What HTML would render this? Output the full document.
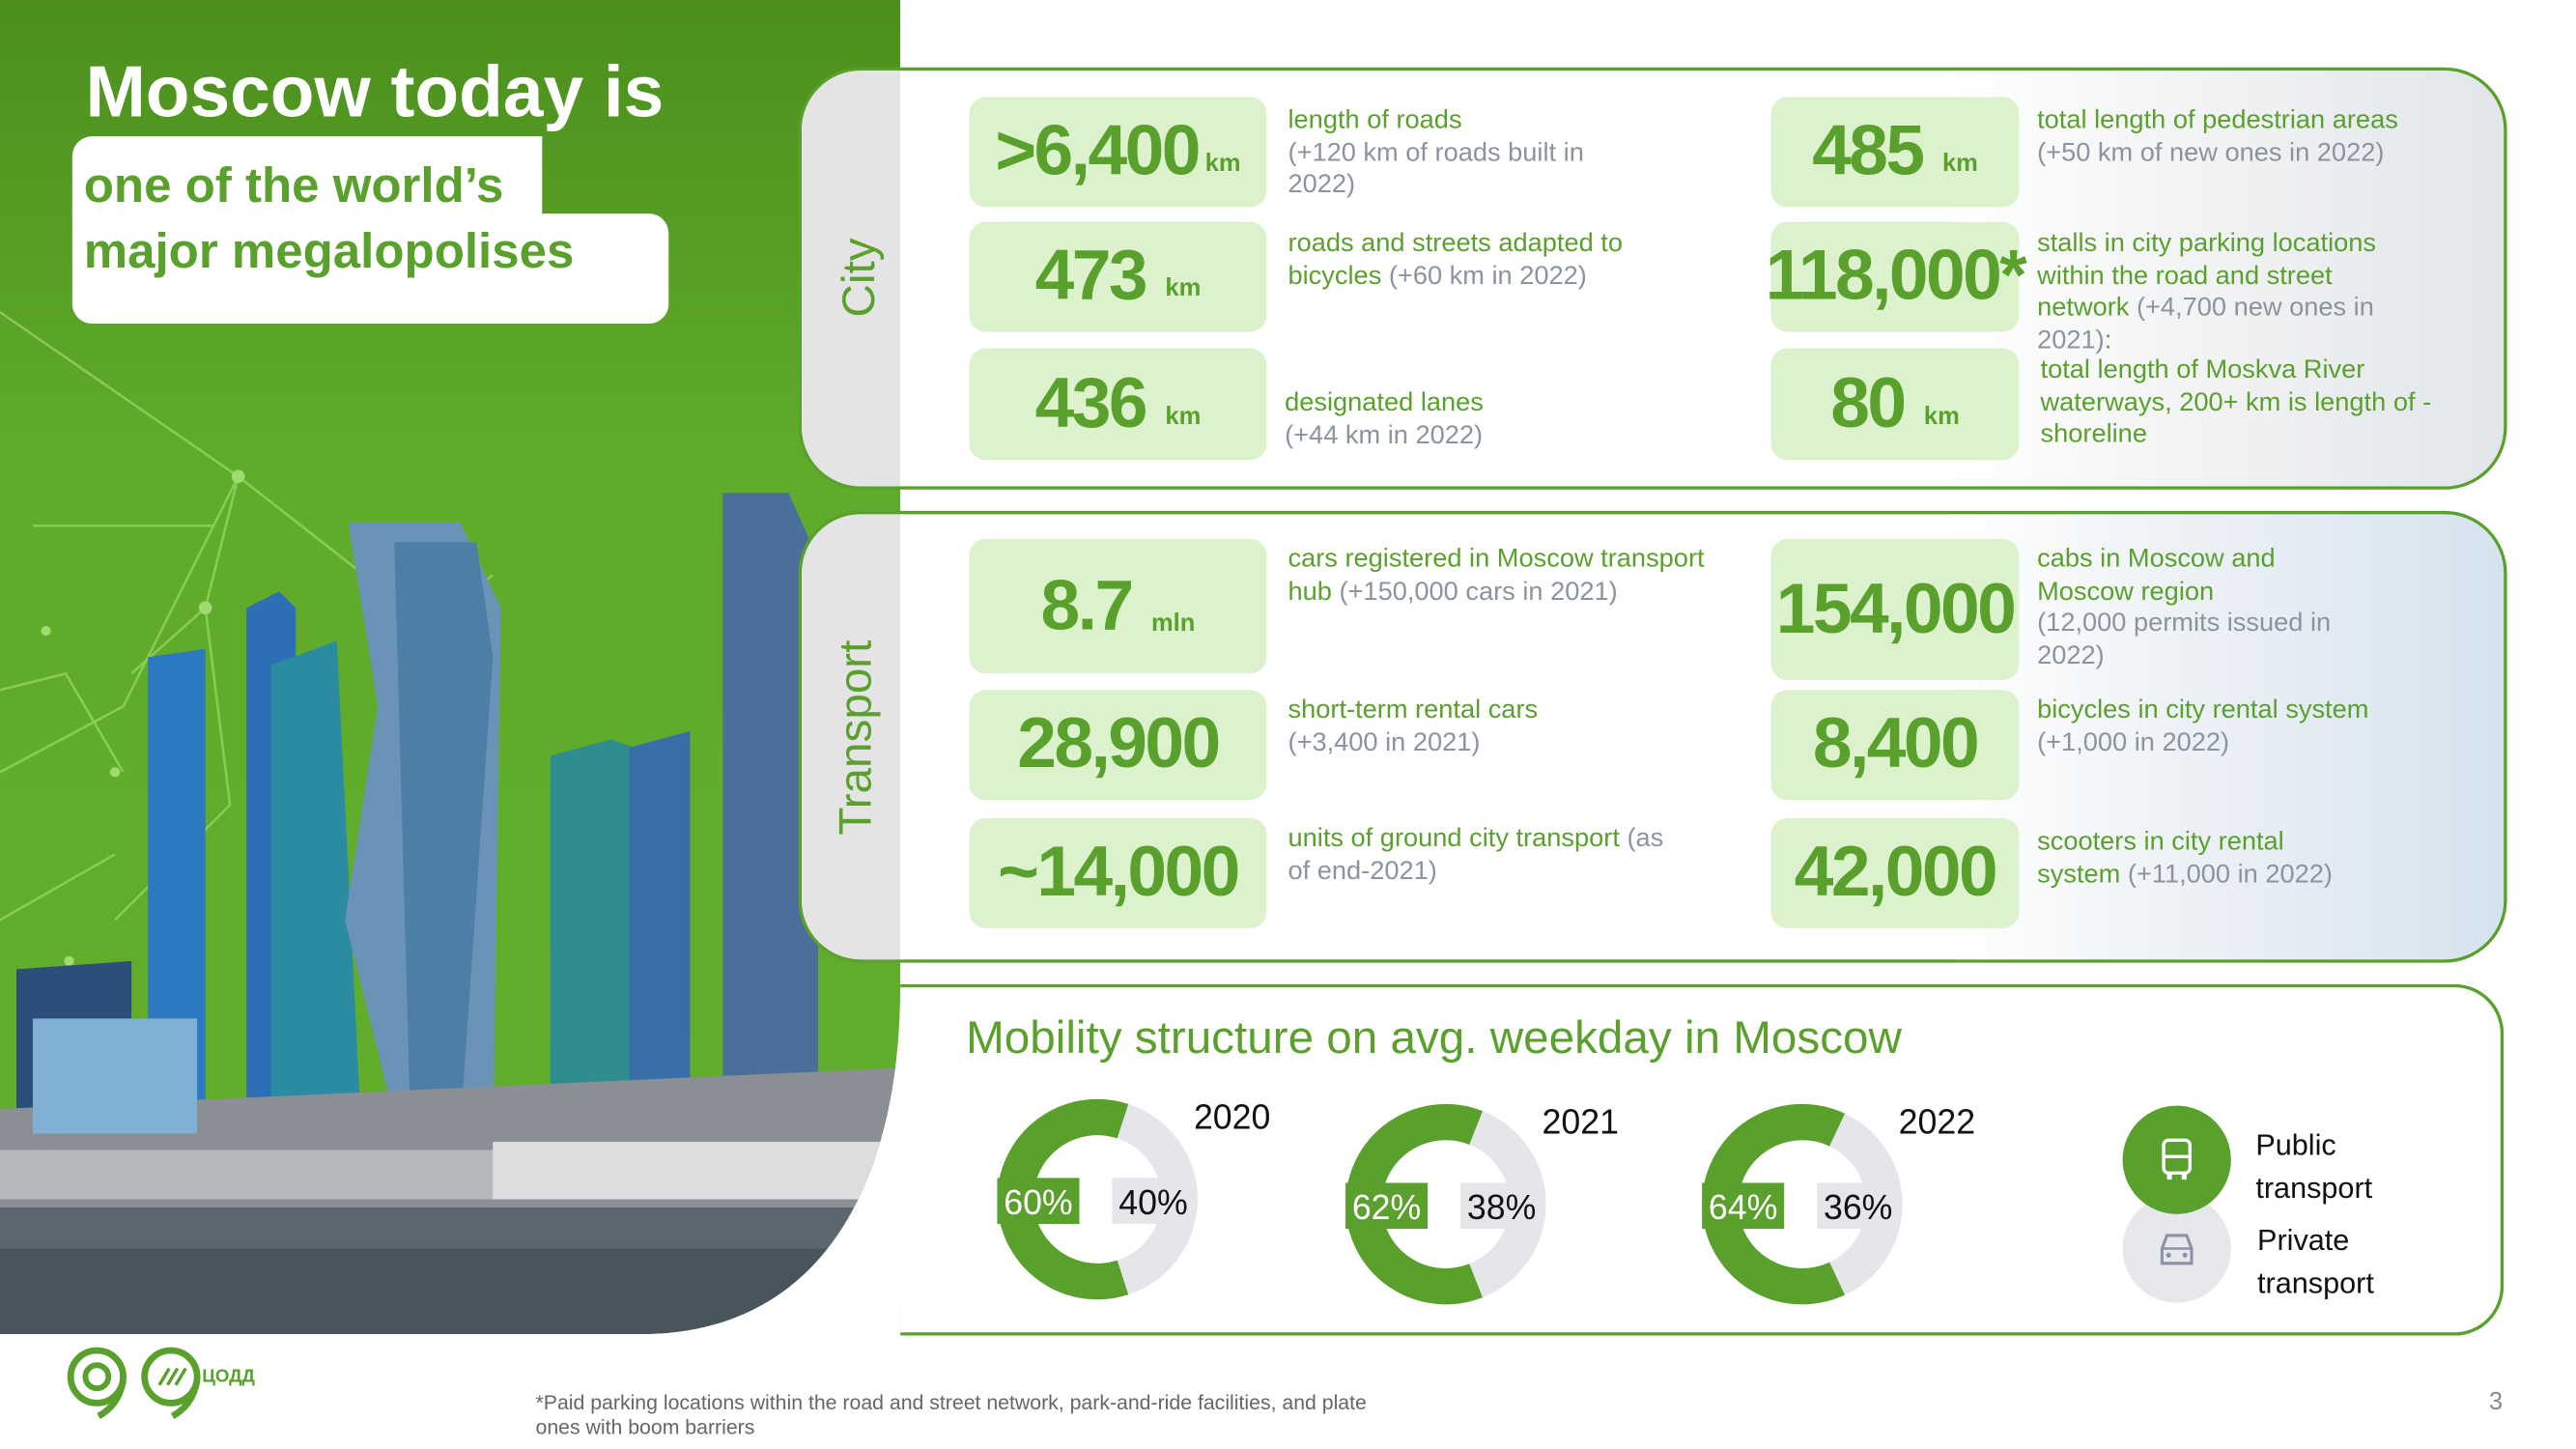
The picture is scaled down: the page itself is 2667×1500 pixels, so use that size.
<!DOCTYPE html>
<html><head><meta charset="utf-8">
<style>
html,body{margin:0;padding:0;width:2667px;height:1500px;overflow:hidden;background:#fff}
#stage{position:absolute;left:0;top:0;width:1568px;height:882px;transform:scale(1.7009,1.7007);transform-origin:0 0;font-family:"Liberation Sans",sans-serif}
.abs{position:absolute}
.panel{position:absolute;border:2px solid #5aa02c;border-radius:38px;background:#fff;overflow:hidden}
.strip{position:absolute;left:0;top:0;bottom:0;width:60px;background:#e4e4e4}
.vlabel{position:absolute;color:#5aa02c;font-size:28px;transform:rotate(-90deg);transform-origin:center;white-space:nowrap}
.box{position:absolute;background:#dcf2cc;border-radius:10px;color:#5aa02c;font-weight:bold;display:flex;align-items:center;justify-content:center}
.num{font-size:43px;letter-spacing:-1.5px}
.unit{font-size:15px;margin-left:12px;align-self:flex-end;margin-bottom:18px}
.desc{position:absolute;font-size:16px;line-height:19.5px;color:#5aa02c}
.desc span{color:#8a93a0}
</style></head><body>
<div id="stage">
<svg class="abs" style="left:0;top:0" width="560" height="812">
<defs><linearGradient id="g" x1="0" y1="0" x2="0" y2="1"><stop offset="0" stop-color="#4c8f1e"/><stop offset="0.35" stop-color="#5fac2a"/><stop offset="1" stop-color="#62ae2c"/></linearGradient>
<clipPath id="c"><path d="M0 0 H548 V600 C548 720 500 812 390 812 H0 Z"/></clipPath></defs>
<g clip-path="url(#c)">
<rect width="560" height="812" fill="url(#g)"/>
<g stroke="#8fd05f" stroke-width="1.5" fill="none" opacity="0.85">
<path d="M0 190 L145 290 L260 380 M145 290 L75 430 L0 470 M145 290 L125 370 L80 410 M20 320 L130 320 M0 420 L40 410 L75 470 M125 370 L140 490 L70 560 M260 380 L300 350 M0 560 L70 520"/>
</g>
<g fill="#9fdc6f"><circle cx="145" cy="290" r="4"/><circle cx="125" cy="370" r="4"/><circle cx="28" cy="384" r="3"/><circle cx="42" cy="585" r="3"/><circle cx="70" cy="470" r="3"/></g>
<polygon points="440,300 480,300 498,340 498,690 440,690" fill="#4a6f9a"/>
<polygon points="335,460 372,450 400,460 400,690 335,690" fill="#2f8d8f"/>
<polygon points="383,455 420,445 420,690 383,690" fill="#3a6ea8"/>
<polygon points="150,370 170,360 180,370 180,690 150,690" fill="#2c6fb5"/>
<polygon points="90,400 125,395 125,690 90,690" fill="#2d79c0"/>
<polygon points="165,405 205,390 220,690 165,690" fill="#2a8ba1"/>
<polygon points="212,318 280,318 305,370 300,700 245,700 210,560 230,430" fill="#6b93b8"/>
<polygon points="240,330 290,330 300,400 280,690 250,690" fill="#4d7ea6"/>
<polygon points="10,590 80,585 80,690 10,690" fill="#2b4e7a"/>
<polygon points="0,675 548,650 548,740 0,740" fill="#8a8f95"/>
<polygon points="20,620 120,620 120,690 20,690" fill="#7fb0d4"/>
<rect x="0" y="700" width="548" height="30" fill="#b3b8bd"/>
<rect x="300" y="695" width="248" height="35" fill="#ddd"/>
<rect x="0" y="735" width="560" height="80" fill="#5c6670"/>
<rect x="0" y="760" width="560" height="55" fill="#4a545c"/>
</g>
</svg>
<div class="abs" style="left:52px;top:32px;color:#fff;font-weight:bold;font-size:44px">Moscow today is</div>
<div class="abs" style="left:44px;top:83px;width:286px;height:50px;background:#fff;border-radius:12px 0 0 0"></div>
<div class="abs" style="left:44px;top:130px;width:363px;height:67px;background:#fff;border-radius:0 12px 12px 12px"></div>
<div class="abs" style="left:51px;top:94px;color:#5aa02c;font-weight:bold;font-size:30px;line-height:40px">one of the world’s<br>major megalopolises</div>

<div class="panel" style="left:486px;top:41px;width:1036px;height:253px">
<div class="abs" style="left:700px;top:0;right:0;bottom:0;background:linear-gradient(90deg,#fff 0%,#f3f4f5 40%,#e2e6ea 100%)"></div>
<div class="strip"></div>
<div class="vlabel" style="left:5px;top:110px;width:60px;text-align:center">City</div>
</div>
<div class="panel" style="left:486px;top:311px;width:1036px;height:271px">
<div class="abs" style="left:700px;top:0;right:0;bottom:0;background:linear-gradient(90deg,#fff 0%,#eef2f6 40%,#d5e3ef 100%)"></div>
<div class="strip"></div>
<div class="vlabel" style="left:-37px;top:120px;width:140px;text-align:center">Transport</div>
</div>

<div class="box" style="left:590px;top:59px;width:181px;height:67px"><span class="num">&gt;6,400</span><span class="unit" style="margin-left:4px">km</span></div>
<div class="desc" style="left:784px;top:64px">length of roads<br><span>(+120 km of roads built in<br>2022)</span></div>
<div class="box" style="left:590px;top:135px;width:181px;height:67px"><span class="num">473</span><span class="unit">km</span></div>
<div class="desc" style="left:784px;top:139px">roads and streets adapted to<br>bicycles <span>(+60 km in 2022)</span></div>
<div class="box" style="left:590px;top:212px;width:181px;height:68px"><span class="num">436</span><span class="unit">km</span></div>
<div class="desc" style="left:782px;top:236px">designated lanes<br><span>(+44 km in 2022)</span></div>

<div class="box" style="left:1078px;top:59px;width:151px;height:67px"><span class="num">485</span><span class="unit">km</span></div>
<div class="desc" style="left:1240px;top:64px">total length of pedestrian areas<br><span>(+50 km of new ones in 2022)</span></div>
<div class="box" style="left:1078px;top:135px;width:151px;height:67px;overflow:visible"><span class="num" style="white-space:nowrap">118,000*</span></div>
<div class="desc" style="left:1240px;top:139px">stalls in city parking locations<br>within the road and street<br>network <span>(+4,700 new ones in<br>2021)</span>:</div>
<div class="box" style="left:1078px;top:212px;width:151px;height:68px"><span class="num">80</span><span class="unit">km</span></div>
<div class="desc" style="left:1242px;top:216px">total length of Moskva River<br>waterways, 200+ km is length of -<br>shoreline</div>

<div class="box" style="left:590px;top:328px;width:181px;height:82px"><span class="num">8.7</span><span class="unit" style="margin-bottom:22px">mln</span></div>
<div class="desc" style="left:784px;top:331px">cars registered in Moscow transport<br>hub <span>(+150,000 cars in 2021)</span></div>
<div class="box" style="left:590px;top:420px;width:181px;height:67px"><span class="num">28,900</span></div>
<div class="desc" style="left:784px;top:423px">short-term rental cars<br><span>(+3,400 in 2021)</span></div>
<div class="box" style="left:590px;top:498px;width:181px;height:67px"><span class="num" style="white-space:nowrap">~14,000</span></div>
<div class="desc" style="left:784px;top:501px">units of ground city transport <span>(as<br>of end-2021)</span></div>

<div class="box" style="left:1078px;top:328px;width:151px;height:86px;overflow:visible"><span class="num">154,000</span></div>
<div class="desc" style="left:1240px;top:331px">cabs in Moscow and<br>Moscow region<br><span>(12,000 permits issued in<br>2022)</span></div>
<div class="box" style="left:1078px;top:420px;width:151px;height:67px"><span class="num">8,400</span></div>
<div class="desc" style="left:1240px;top:423px">bicycles in city rental system<br><span>(+1,000 in 2022)</span></div>
<div class="box" style="left:1078px;top:498px;width:151px;height:67px;overflow:visible"><span class="num">42,000</span></div>
<div class="desc" style="left:1240px;top:503px">scooters in city rental<br>system <span>(+11,000 in 2022)</span></div>

<div class="abs" style="left:548px;top:599px;width:974px;height:210px;border:2px solid #5aa02c;border-left:none;border-radius:0 30px 30px 0"></div>
<div class="abs" style="left:588px;top:616px;color:#5aa02c;font-size:28px">Mobility structure on avg. weekday in Moscow</div>
<svg id="donuts" class="abs" style="left:0;top:0" width="1568" height="882"></svg>

<div class="abs" style="left:1292px;top:727px;width:66px;height:66px;border-radius:50%;background:#e6e8ec"></div>
<div class="abs" style="left:1292px;top:673px;width:66px;height:66px;border-radius:50%;background:#5aa02c"></div>
<svg class="abs" style="left:1311px;top:692px" width="28" height="28"><rect x="6" y="2" width="16" height="20" rx="3" fill="none" stroke="#fff" stroke-width="2"/><line x1="6" y1="12" x2="22" y2="12" stroke="#fff" stroke-width="2"/><rect x="8" y="22" width="3" height="4" fill="#fff"/><rect x="17" y="22" width="3" height="4" fill="#fff"/></svg>
<svg class="abs" style="left:1311px;top:747px" width="28" height="28"><path d="M5 13 L8 5 H20 L23 13 V22 H5 Z" fill="none" stroke="#8a93a6" stroke-width="1.8"/><line x1="5" y1="13" x2="23" y2="13" stroke="#8a93a6" stroke-width="1.5"/><circle cx="9" cy="17" r="1.5" fill="#8a93a6"/><circle cx="19" cy="17" r="1.5" fill="#8a93a6"/></svg>
<div class="abs" style="left:1373px;top:684px;font-size:18px;line-height:26px;color:#111">Public<br>transport</div>
<div class="abs" style="left:1374px;top:742px;font-size:18px;line-height:26px;color:#111">Private<br>transport</div>

<svg class="abs" style="left:40px;top:818px" width="120" height="46">
<circle cx="19" cy="20" r="16" fill="none" stroke="#5aa02c" stroke-width="4"/><circle cx="19" cy="20" r="7" fill="none" stroke="#5aa02c" stroke-width="3.5"/><path d="M35 22 C33 34 27 40 20 44" fill="none" stroke="#5aa02c" stroke-width="4"/>
<circle cx="64" cy="20" r="16" fill="none" stroke="#5aa02c" stroke-width="4"/><path d="M80 22 C78 34 72 40 65 44" fill="none" stroke="#5aa02c" stroke-width="4"/><path d="M57 25 L63 15 M62 25 L68 15 M67 25 L73 15" stroke="#5aa02c" stroke-width="2"/>
<text x="83" y="23" font-family="Liberation Sans" font-weight="bold" font-size="11" fill="#5aa02c">ЦОДД</text></svg>
<div class="abs" style="left:326px;top:847px;font-size:12.5px;line-height:15px;color:#666">*Paid parking locations within the road and street network, park-and-ride facilities, and plate<br>ones with boom barriers</div>
<div class="abs" style="left:1515px;top:845px;font-size:15px;color:#888">3</div>
</div>
<script>
const years = ["2020", "2021", "2022"];
const publicShare = [60, 62, 64];
const privateShare = [40, 38, 36];
const centers = [[668,730],[880,733],[1097,733]];
const svg = document.getElementById('donuts');
const NS = 'http://www.w3.org/2000/svg';
const R = 50, W = 22;
function pt(cx, cy, ang){ return [cx + R*Math.cos(ang), cy + R*Math.sin(ang)]; }
function arc(cx, cy, a0, a1){
  const p0 = pt(cx,cy,a0), p1 = pt(cx,cy,a1);
  const large = (a1 - a0) > Math.PI ? 1 : 0;
  return `M${p0[0]} ${p0[1]} A${R} ${R} 0 ${large} 1 ${p1[0]} ${p1[1]}`;
}
years.forEach((y, i) => {
  const [cx, cy] = centers[i];
  const tot = publicShare[i] + privateShare[i];
  const gAng = publicShare[i] / tot * 2 * Math.PI;
  const mid = Math.PI;
  const a0 = mid - gAng/2, a1 = mid + gAng/2;
  const g = document.createElementNS(NS, 'path');
  g.setAttribute('d', arc(cx, cy, a1 - 2*Math.PI, a0));
  g.setAttribute('fill', 'none'); g.setAttribute('stroke', '#e4e6ea'); g.setAttribute('stroke-width', W);
  
  
  svg.appendChild(g);
  const p = document.createElementNS(NS, 'path');
  p.setAttribute('d', arc(cx, cy, a0, a1));
  p.setAttribute('fill', 'none'); p.setAttribute('stroke', '#5aa02c'); p.setAttribute('stroke-width', W);
  
  
  svg.appendChild(p);
  const r1 = document.createElementNS(NS, 'rect');
  r1.setAttribute('x', cx-61); r1.setAttribute('y', cy-13); r1.setAttribute('width', 50); r1.setAttribute('height', 28); r1.setAttribute('fill', '#5aa02c');
  
  
  svg.appendChild(r1);
  const r2 = document.createElementNS(NS, 'rect');
  r2.setAttribute('x', cx+9); r2.setAttribute('y', cy-13); r2.setAttribute('width', 50); r2.setAttribute('height', 28); r2.setAttribute('fill', '#e4e6ea');
  
  
  svg.appendChild(r2);
  const mk = (x, yy, txt, col, nm, anchor) => {
    const t = document.createElementNS(NS, 'text');
    t.setAttribute('x', x); t.setAttribute('y', yy); t.setAttribute('fill', col);
    t.setAttribute('font-family', 'Liberation Sans, sans-serif'); t.setAttribute('font-size', '21');
    t.setAttribute('text-anchor', anchor);
    t.textContent = txt;
    
    
    svg.appendChild(t);
  };
  mk(cx-36, cy+9, publicShare[i] + '%', '#fff', 'public-value-' + y, 'middle');
  mk(cx+34, cy+9, privateShare[i] + '%', '#111', 'private-value-' + y, 'middle');
  mk(cx+82, cy-43, y, '#111', 'year-label-' + y, 'middle');
});
</script>
</body></html>
